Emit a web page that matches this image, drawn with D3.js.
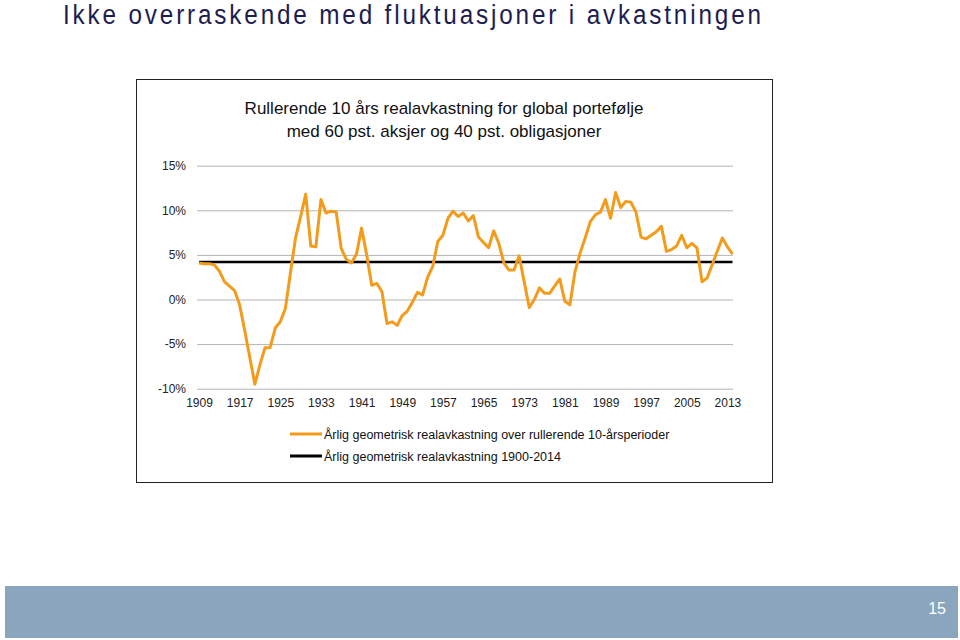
<!DOCTYPE html>
<html>
<head>
<meta charset="utf-8">
<script src="https://cdn.jsdelivr.net/npm/d3@7"></script>
<style>
  html, body { margin: 0; padding: 0; background: #ffffff; }
  svg { display: block; font-family: "Liberation Sans", Arial, sans-serif; }
</style>
</head>
<body>
<svg id="chart" width="960" height="640"></svg>
<script>
// ---- Data ----
const years = d3.range(1909, 2015);
const rolling10 = [
  4.1, 4.0, 4.0, 3.9, 3.2, 2.0, 1.5, 1.0, -0.6, -3.5,
  -6.5, -9.5, -7.3, -5.4, -5.4, -3.2, -2.5, -1.0, 3.0, 6.9,
  9.3, 11.8, 6.0, 5.9, 11.2, 9.7, 9.9, 9.8, 5.7, 4.5,
  4.1, 5.1, 8.0, 5.0, 1.6, 1.8, 0.9, -2.7, -2.5, -2.9,
  -1.8, -1.3, -0.3, 0.8, 0.5, 2.5, 3.7, 6.5, 7.2, 9.1,
  9.9, 9.3, 9.7, 8.8, 9.4, 7.0, 6.4, 5.8, 7.7, 6.3,
  4.1, 3.3, 3.3, 4.9, 2.0, -0.9, 0.0, 1.3, 0.7, 0.7,
  1.5, 2.3, -0.2, -0.6, 3.1, 5.2, 6.9, 8.7, 9.5, 9.8,
  11.2, 9.1, 12.0, 10.3, 11.0, 10.9, 9.8, 7.0, 6.8, 7.2,
  7.6, 8.2, 5.4, 5.6, 6.0, 7.2, 5.8, 6.3, 5.8, 2.0,
  2.4, 3.9, 5.4, 6.9, 5.9, 5.1
];
const longRunAvg = 4.2;
const yTicks = [-10, -5, 0, 5, 10, 15];
const xTickYears = d3.range(1909, 2014, 8);
const pageTitle = "Ikke overraskende med fluktuasjoner i avkastningen";
const chartTitle = ["Rullerende 10 års realavkastning for global portefølje",
                    "med 60 pst. aksjer og 40 pst. obligasjoner"];
const legendLabels = ["Årlig geometrisk realavkastning over rullerende 10-årsperioder",
                      "Årlig geometrisk realavkastning 1900-2014"];
const pageNumber = "15";

const svg = d3.select("#chart");

// Page title (slightly condensed glyphs with letter spacing)
const sx = 0.9;
svg.append("text")
  .attr("transform", `translate(63,24) scale(${sx},1)`)
  .attr("x", 0).attr("y", 0)
  .attr("textLength", 698 / sx).attr("lengthAdjust", "spacing")
  .style("font-size", "27px").style("fill", "#1d1d52")
  .text(pageTitle);

// Chart frame
svg.append("rect")
  .attr("x", 136.5).attr("y", 79.5).attr("width", 636).attr("height", 403)
  .attr("fill", "#fff").attr("stroke", "#222").attr("stroke-width", 1);

// Chart title
svg.append("g").selectAll("text").data(chartTitle).join("text")
  .attr("x", 444).attr("y", (d, i) => 114 + i * 23)
  .attr("text-anchor", "middle")
  .style("font-size", "17px").style("fill", "#111")
  .text(d => d);

// Scales
const x = d3.scaleLinear().domain([1909, 2014]).range([199, 732.5]);
const y = d3.scaleLinear().domain([-10, 15]).range([388.7, 165.7]);
const gridLeft = 197, gridRight = 733;

// Y axis with gridlines
const yAxis = svg.append("g")
  .attr("transform", `translate(${gridLeft},0)`)
  .call(d3.axisLeft(y).tickValues(yTicks).tickFormat(d => d + "%")
    .tickSize(-(gridRight - gridLeft)).tickPadding(11));
yAxis.select(".domain").remove();
yAxis.selectAll(".tick line").attr("stroke", "#b4b4b4").attr("stroke-width", 1);
yAxis.selectAll(".tick text").style("font-size", "12px").style("fill", "#222")
  .style("font-family", "'Liberation Sans', Arial, sans-serif");

// X axis labels
const xAxis = svg.append("g")
  .attr("transform", `translate(0,${y(-10)})`)
  .call(d3.axisBottom(x).tickValues(xTickYears).tickFormat(d3.format("d"))
    .tickSize(0).tickPadding(10));
xAxis.select(".domain").remove();
xAxis.selectAll(".tick text").style("font-size", "12px").style("fill", "#222")
  .style("font-family", "'Liberation Sans', Arial, sans-serif");

// Long-run average line
svg.append("line")
  .attr("x1", x(1909)).attr("x2", x(2014))
  .attr("y1", y(longRunAvg)).attr("y2", y(longRunAvg))
  .attr("stroke", "#000").attr("stroke-width", 2.5);

// Rolling line
const line = d3.line().x((d, i) => x(years[i])).y(d => y(d));
svg.append("path")
  .datum(rolling10)
  .attr("d", line)
  .attr("fill", "none")
  .attr("stroke", "#f39c1b")
  .attr("stroke-width", 3)
  .attr("stroke-linejoin", "round");

// Legend
const legend = svg.append("g");
const legendColors = ["#f39c1b", "#000"];
legendLabels.forEach((lab, i) => {
  const ly = 434 + i * 22;
  legend.append("line")
    .attr("x1", 290).attr("x2", 322).attr("y1", ly).attr("y2", ly)
    .attr("stroke", legendColors[i]).attr("stroke-width", 3);
  legend.append("text")
    .attr("x", 324).attr("y", ly + 4.5)
    .style("font-size", "12.5px").style("fill", "#111")
    .text(lab);
});

// Footer bar
svg.append("rect")
  .attr("x", 5).attr("y", 586).attr("width", 953).attr("height", 52)
  .attr("fill", "#8aa5bd");
svg.append("text")
  .attr("x", 946).attr("y", 614).attr("text-anchor", "end")
  .style("font-size", "16px").style("fill", "#fff")
  .text(pageNumber);
</script>
</body>
</html>
